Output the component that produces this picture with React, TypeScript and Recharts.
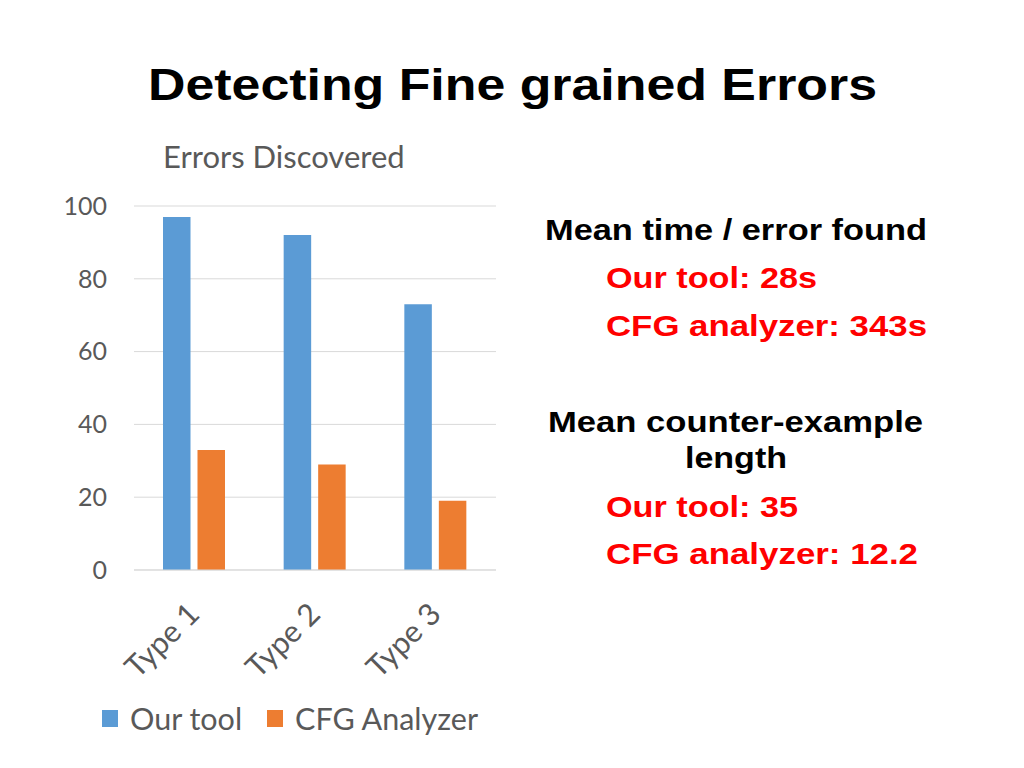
import { Bar, BarChart, CartesianGrid, Legend, XAxis, YAxis } from "recharts";

const categories = ["Type 1", "Type 2", "Type 3"];
const ourTool = [97, 92, 73];
const cfgAnalyzer = [33, 29, 19];
const yTicks = [0, 20, 40, 60, 80, 100];
const seriesNames = ["Our tool", "CFG Analyzer"];

const BLUE = "#5b9bd5";
const ORANGE = "#ed7d31";
const GRAY = "#595959";
const GRID = "#d9d9d9";
const RED = "#ff0000";

const rows = categories.map((name, i) => ({ name, ours: ourTool[i], cfg: cfgAnalyzer[i] }));

function SlantTick({ x, y, payload }: any) {
  const ax = x + 7;
  const ay = y + 38;
  return (
    <text
      x={ax}
      y={ay}
      transform={`rotate(-45 ${ax} ${ay})`}
      textAnchor="end"
      fontFamily="Lato"
      fontSize={30.5}
      fill={GRAY}
    >
      {payload.value}
    </text>
  );
}

function LegendRow({ payload }: any) {
  const items = [...(payload || [])].sort(
    (a: any, b: any) => seriesNames.indexOf(a.value) - seriesNames.indexOf(b.value)
  );
  return (
    <div style={{ display: "flex", alignItems: "center", fontFamily: "Lato", fontSize: 30.5, color: GRAY }}>
      {items.map((p: any) => (
        <div key={p.value} style={{ display: "flex", alignItems: "center", marginRight: 25 }}>
          <span style={{ width: 16, height: 17, background: p.color, marginRight: 12 }} />
          <span>{p.value}</span>
        </div>
      ))}
    </div>
  );
}

// bold side notes, stretched to the widths on the slide
function Note({ x, y, w, color, anchor, children }: any) {
  return (
    <text
      x={x}
      y={y}
      textAnchor={anchor || "start"}
      fill={color}
      textLength={w}
      lengthAdjust="spacingAndGlyphs"
    >
      {children}
    </text>
  );
}

export default function App() {
  return (
    <div style={{ position: "absolute", left: 0, top: 0, width: 1024, height: 768, background: "#fff" }}>
      <BarChart
        width={1024}
        height={768}
        data={rows}
        margin={{ top: 206, right: 528, left: 0, bottom: 98 }}
        barGap={7}
        barSize={27.5}
      >
        <CartesianGrid stroke={GRID} vertical={false} />
        <XAxis
          dataKey="name"
          height={100}
          axisLine={{ stroke: GRID }}
          tickLine={false}
          interval={0}
          tick={<SlantTick />}
        />
        <YAxis
          width={134}
          domain={[0, 100]}
          ticks={yTicks}
          axisLine={false}
          tickLine={false}
          tickSize={0}
          tickMargin={27}
          tick={{ fill: GRAY, fontSize: 25, fontFamily: "Lato" }}
        />
        <Legend
          layout="horizontal"
          verticalAlign="middle"
          align="center"
          content={<LegendRow />}
          wrapperStyle={{ top: 700, left: 102, width: "auto" }}
        />
        <Bar dataKey="ours" name={seriesNames[0]} fill={BLUE} isAnimationActive={false} />
        <Bar dataKey="cfg" name={seriesNames[1]} fill={ORANGE} isAnimationActive={false} />
      </BarChart>
      <svg width={1024} height={768} style={{ position: "absolute", left: 0, top: 0, pointerEvents: "none" }}>
        <text
          x={148}
          y={100}
          fontFamily="Liberation Sans"
          fontWeight="bold"
          fontSize={44}
          fill="#000"
          textLength={729}
          lengthAdjust="spacingAndGlyphs"
        >
          Detecting Fine grained Errors
        </text>
        <text x={163} y={168} fontFamily="Lato" fontSize={31} fill={GRAY}>
          Errors Discovered
        </text>
        <g fontFamily="Liberation Sans" fontWeight="bold" fontSize={30}>
          <Note x={545} y={240} w={382} color="#000">Mean time / error found</Note>
          <Note x={606} y={288} w={211} color={RED}>Our tool: 28s</Note>
          <Note x={606} y={336} w={321} color={RED}>CFG analyzer: 343s</Note>
          <Note x={548} y={432} w={375} color="#000">Mean counter-example</Note>
          <Note x={685} y={468} w={102} color="#000">length</Note>
          <Note x={606} y={517} w={192} color={RED}>Our tool: 35</Note>
          <Note x={606} y={564} w={312} color={RED}>CFG analyzer: 12.2</Note>
        </g>
      </svg>
    </div>
  );
}
